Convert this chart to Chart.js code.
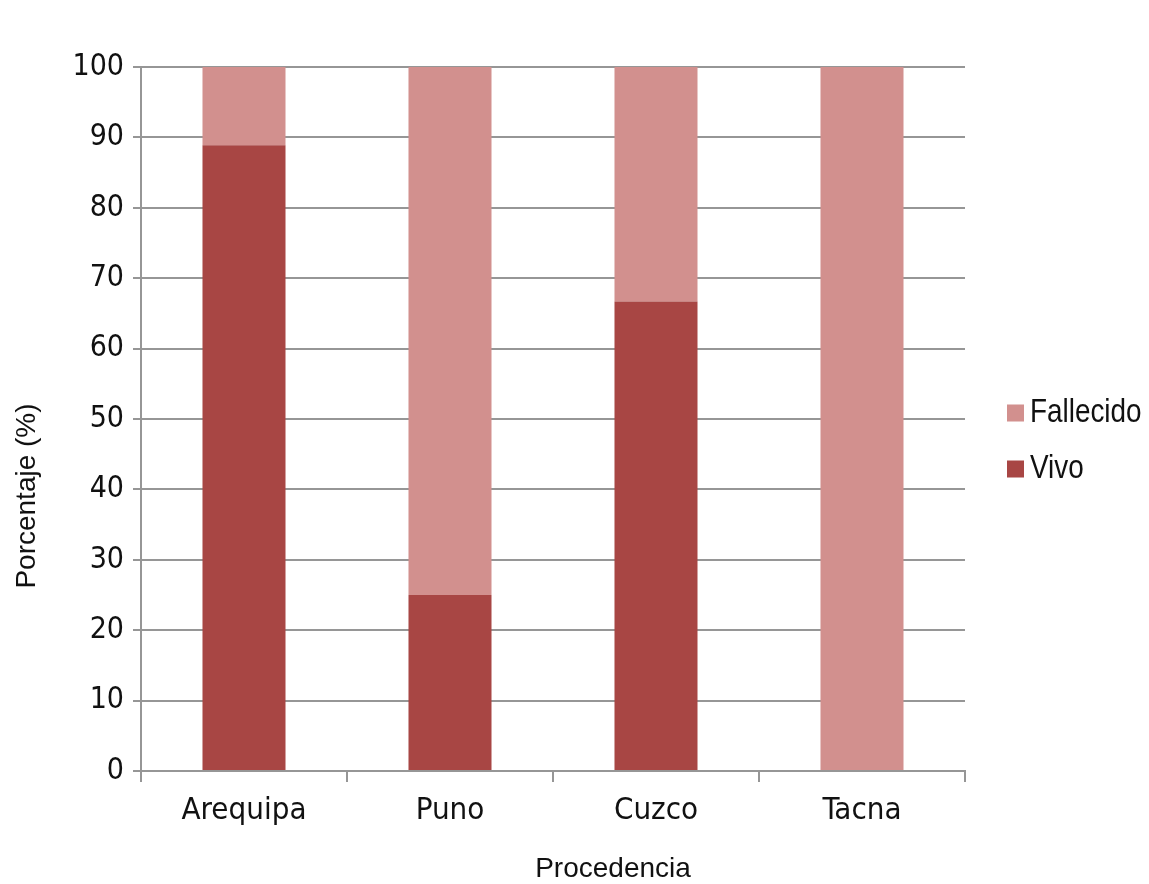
<!DOCTYPE html>
<html>
<head>
<meta charset="utf-8">
<script src="https://cdn.jsdelivr.net/npm/chart.js@4.4.1/dist/chart.umd.min.js"></script>
<style>
  html, body { margin: 0; padding: 0; background: #ffffff; }
  #wrap { width: 1149px; height: 884px; position: relative; }
</style>
</head>
<body>
<div id="wrap"><canvas id="chart" width="1149" height="884"></canvas></div>
<script>
// Survival by place of origin (percent of patients)
const categories = ['Arequipa', 'Puno', 'Cuzco', 'Tacna'];
const vivo = [88.9, 25, 66.7, 0];
const fallecido = [11.1, 75, 33.3, 100];
const yTicks = [0, 10, 20, 30, 40, 50, 60, 70, 80, 90, 100];
const seriesNames = ['Vivo', 'Fallecido'];
const xTitle = 'Procedencia';
const yTitle = 'Porcentaje (%)';

const NARROW = "'DejaVu Sans Condensed', 'Liberation Sans Narrow', sans-serif";
const SANS = "'Liberation Sans', Arial, sans-serif";
const GRID = '#969696';
const INK = '#111111';

// Axis titles and the legend, drawn after the plot
const decorations = {
  id: 'decorations',
  afterDraw(chart) {
    const ctx = chart.ctx;
    const area = chart.chartArea;
    ctx.save();
    ctx.fillStyle = INK;

    // y axis title
    ctx.font = '28px ' + SANS;
    ctx.textAlign = 'center';
    ctx.textBaseline = 'middle';
    ctx.save();
    ctx.translate(27, 496);
    ctx.rotate(-Math.PI / 2);
    ctx.fillText(yTitle, 0, 0);
    ctx.restore();

    // x axis title
    ctx.fillText(xTitle, 613, 869);

    // legend (top series first), narrow lettering
    const ds = chart.data.datasets.slice().reverse();
    ds.forEach((d, i) => {
      const cy = 413 + i * 56;
      ctx.fillStyle = d.backgroundColor;
      ctx.fillRect(area.right + 42, cy - 8.5, 17, 17);
      ctx.save();
      ctx.translate(area.right + 65, cy);
      ctx.scale(0.82, 1);
      ctx.font = '34px ' + SANS;
      ctx.textAlign = 'left';
      ctx.fillStyle = INK;
      ctx.fillText(d.label, 0, 0);
      ctx.restore();
    });
    ctx.restore();
  }
};

new Chart(document.getElementById('chart'), {
  type: 'bar',
  data: {
    labels: categories,
    datasets: [
      { label: seriesNames[0], data: vivo, backgroundColor: '#a84644' },
      { label: seriesNames[1], data: fallecido, backgroundColor: '#d2908e' }
    ]
  },
  options: {
    responsive: false,
    animation: false,
    devicePixelRatio: 1,
    layout: { padding: { top: 67, right: 184, bottom: 0, left: 0 } },
    datasets: { bar: { categoryPercentage: 1, barPercentage: 0.403, borderWidth: 0 } },
    plugins: { legend: { display: false }, tooltip: { enabled: false } },
    scales: {
      x: {
        stacked: true,
        offset: true,
        afterFit(scale) { scale.height = 113; },
        grid: { offset: true, drawOnChartArea: false, drawTicks: true, tickLength: 11, color: GRID, lineWidth: 2 },
        border: { display: true, color: GRID, width: 2 },
        ticks: { color: INK, font: { family: NARROW, size: 31 }, padding: 10 }
      },
      y: {
        stacked: true,
        min: 0,
        max: 100,
        afterFit(scale) { scale.width = 141; },
        afterBuildTicks(scale) { scale.ticks = yTicks.map(v => ({ value: v })); },
        grid: { color: GRID, lineWidth: 2, tickLength: 8 },
        border: { display: true, color: GRID, width: 2 },
        ticks: { color: INK, font: { family: NARROW, size: 30 }, padding: 9 }
      }
    }
  },
  plugins: [decorations]
});
</script>
</body>
</html>
